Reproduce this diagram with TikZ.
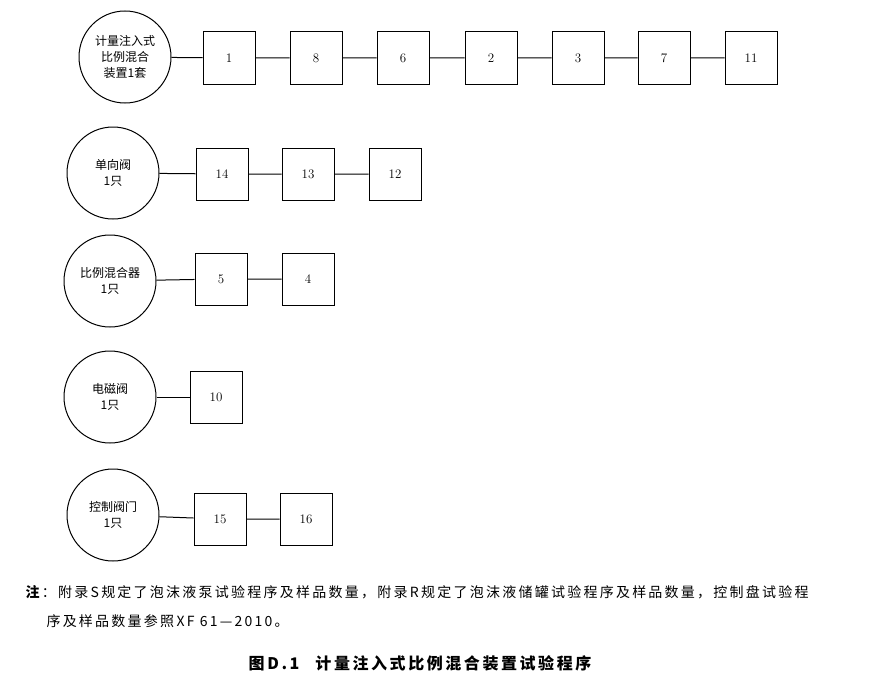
\documentclass[tikz,border=0pt]{standalone}
\usepackage{fontspec}
\newfontfamily\cjk{Noto Sans CJK SC}
\newfontfamily\cjkwide[LetterSpace=16]{Noto Sans CJK SC}
\tikzset{
  dev/.style={circle, draw, line width=1pt, minimum size=92pt, inner sep=0pt, align=center, font=\cjk\fontsize{12}{16}\selectfont},
  item/.style={draw, line width=1pt, minimum size=52pt, inner sep=0pt, font=\fontsize{13}{15}\selectfont},
  link/.style={line width=1pt},
}
\begin{document}
\begin{tikzpicture}[x=1pt,y=-1pt]
  \useasboundingbox (0,0) rectangle (875,685);
  % row 1
  \node[dev] (m) at (125,57) {计量注入式\\比例混合\\装置1套};
  \node[item] (b1) at (229,58) {1};
  \node[item] (b8) at (316,58) {8};
  \node[item] (b6) at (403,58) {6};
  \node[item] (b2) at (491,58) {2};
  \node[item] (b3) at (578,58) {3};
  \node[item] (b7) at (664,58) {7};
  \node[item] (b11) at (751,58) {11};
  \draw[link] (m) -- (b1) -- (b8) -- (b6) -- (b2) -- (b3) -- (b7) -- (b11);
  % row 2
  \node[dev] (c) at (113,173) {单向阀\\1只};
  \node[item] (b14) at (222,174) {14};
  \node[item] (b13) at (308,174) {13};
  \node[item] (b12) at (395,174) {12};
  \draw[link] (c) -- (b14) -- (b13) -- (b12);
  % row 3
  \node[dev] (p) at (110,281) {比例混合器\\1只};
  \node[item] (b5) at (221,279) {5};
  \node[item] (b4) at (308,279) {4};
  \draw[link] (p) -- (b5) -- (b4);
  % row 4
  \node[dev] (v) at (110,397) {电磁阀\\1只};
  \node[item] (b10) at (216,397) {10};
  \draw[link] (v) -- (b10);
  % row 5
  \node[dev] (g) at (113,515) {控制阀门\\1只};
  \node[item] (b15) at (220,519) {15};
  \node[item] (b16) at (306,519) {16};
  \draw[link] (g) -- (b15) -- (b16);
  % note and caption
  \node[anchor=west, font=\cjkwide\fontsize{14}{16}\selectfont] (n1) at (22,592)
    {\textbf{注}：附录\,S\,规定了泡沫液泵试验程序及样品数量，附录\,R\,规定了泡沫液储罐试验程序及样品数量，控制盘试验程};
  \node[anchor=west, font=\cjkwide\fontsize{14}{16}\selectfont] (n2) at (43,621)
    {序及样品数量参照\,XF 61—2010。};
  \node[font=\cjkwide\fontsize{16}{18}\selectfont\bfseries] (cap) at (420,663)
    {图\,D.1\quad 计量注入式比例混合装置试验程序};
\end{tikzpicture}
\end{document}
